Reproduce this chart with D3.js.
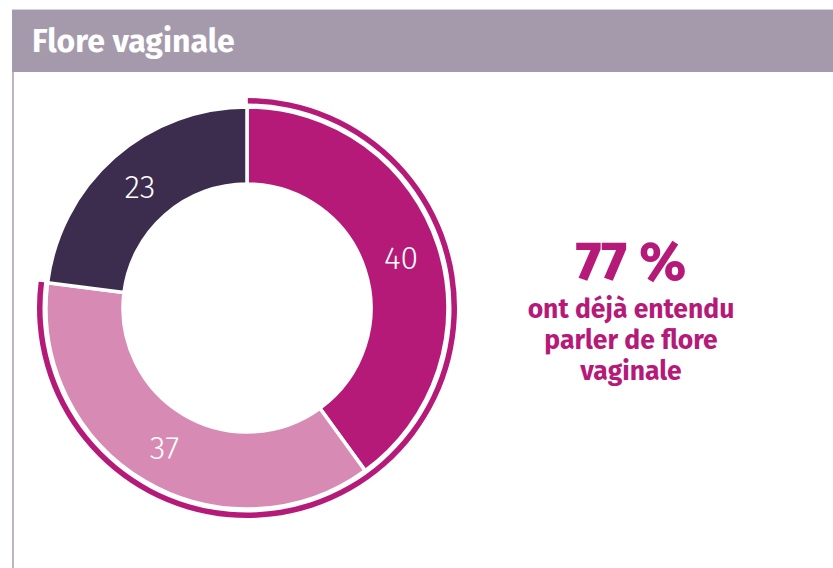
<!DOCTYPE html>
<html>
<head>
<meta charset="utf-8">
<script src="https://cdn.jsdelivr.net/npm/d3@7"></script>
<style>
  body { margin: 0; background: #fff; }
  svg { display: block; }
</style>
</head>
<body>
<svg id="viz" width="833" height="568"></svg>
<script>
var categories = ["Oui, et savent ce que c'est", "Oui, sans savoir", "Non"];
var values = [40, 37, 23];
var colors = ["#b51a79", "#d78bb4", "#3c2c4d"];
var heardTotal = 77;
var title = "Flore vaginale";
var sideLines = ["ont déjà entendu", "parler de flore", "vaginale"];

var svg = d3.select("#viz");
var font = "'Fira Sans', 'Noto Sans', sans-serif";

// header
svg.append("rect").attr("x", 12).attr("y", 9).attr("width", 821).attr("height", 1).attr("fill", "#d6d3d8");
svg.append("rect").attr("x", 12).attr("y", 10).attr("width", 821).attr("height", 62).attr("fill", "#a59aac");
svg.append("rect").attr("x", 12).attr("y", 72).attr("width", 2).attr("height", 496).attr("fill", "#bdb5c4");
svg.append("text")
	.attr("x", 32).attr("y", 52)
	.attr("fill", "#fff")
	.attr("font-family", font)
	.attr("font-weight", 700)
	.attr("font-size", 32)
	.text(title);

var cx = 247, cy = 308;
var outerR = 201, innerR = 124;

var pie = d3.pie().sort(null).value(function(d) { return d; });
var arcs = pie(values);
var arc = d3.arc().innerRadius(innerR).outerRadius(outerR);
var labelArc = d3.arc().innerRadius(162).outerRadius(162);

var g = svg.append("g").attr("transform", "translate(" + cx + "," + cy + ")");

g.selectAll("path.slice")
	.data(arcs)
	.enter().append("path")
	.attr("class", "slice")
	.attr("d", arc)
	.attr("fill", function(d, i) { return colors[i]; })
	.attr("stroke", "#fff")
	.attr("stroke-width", 3.5)
	.attr("stroke-linejoin", "miter");

g.selectAll("text.lbl")
	.data(arcs)
	.enter().append("text")
	.attr("class", "lbl")
	.attr("transform", function(d) { return "translate(" + labelArc.centroid(d) + ")"; })
	.attr("text-anchor", "middle")
	.attr("dy", "0.36em")
	.attr("fill", "#fff")
	.attr("font-family", font)
	.attr("font-weight", 300)
	.attr("font-size", 32)
	.text(function(d) { return d.data; });

// outer ring over the "heard of it" share
var ringEnd = heardTotal / 100 * 2 * Math.PI;
g.append("path")
	.attr("d", d3.arc().innerRadius(204.5).outerRadius(210).startAngle(0.004).endAngle(ringEnd)())
	.attr("fill", colors[0]);

// side text
var tx = 631;
svg.append("text")
	.attr("x", tx).attr("y", 280)
	.attr("text-anchor", "middle")
	.attr("fill", colors[0])
	.attr("font-family", font)
	.attr("font-weight", 800)
	.attr("font-size", 54)
	.text(heardTotal + " %");

svg.selectAll("text.side")
	.data(sideLines)
	.enter().append("text")
	.attr("class", "side")
	.attr("x", tx)
	.attr("y", function(d, i) { return 318 + i * 31; })
	.attr("text-anchor", "middle")
	.attr("fill", colors[0])
	.attr("font-family", font)
	.attr("font-weight", 700)
	.attr("font-size", 26.5)
	.text(function(d) { return d; });
</script>
</body>
</html>
